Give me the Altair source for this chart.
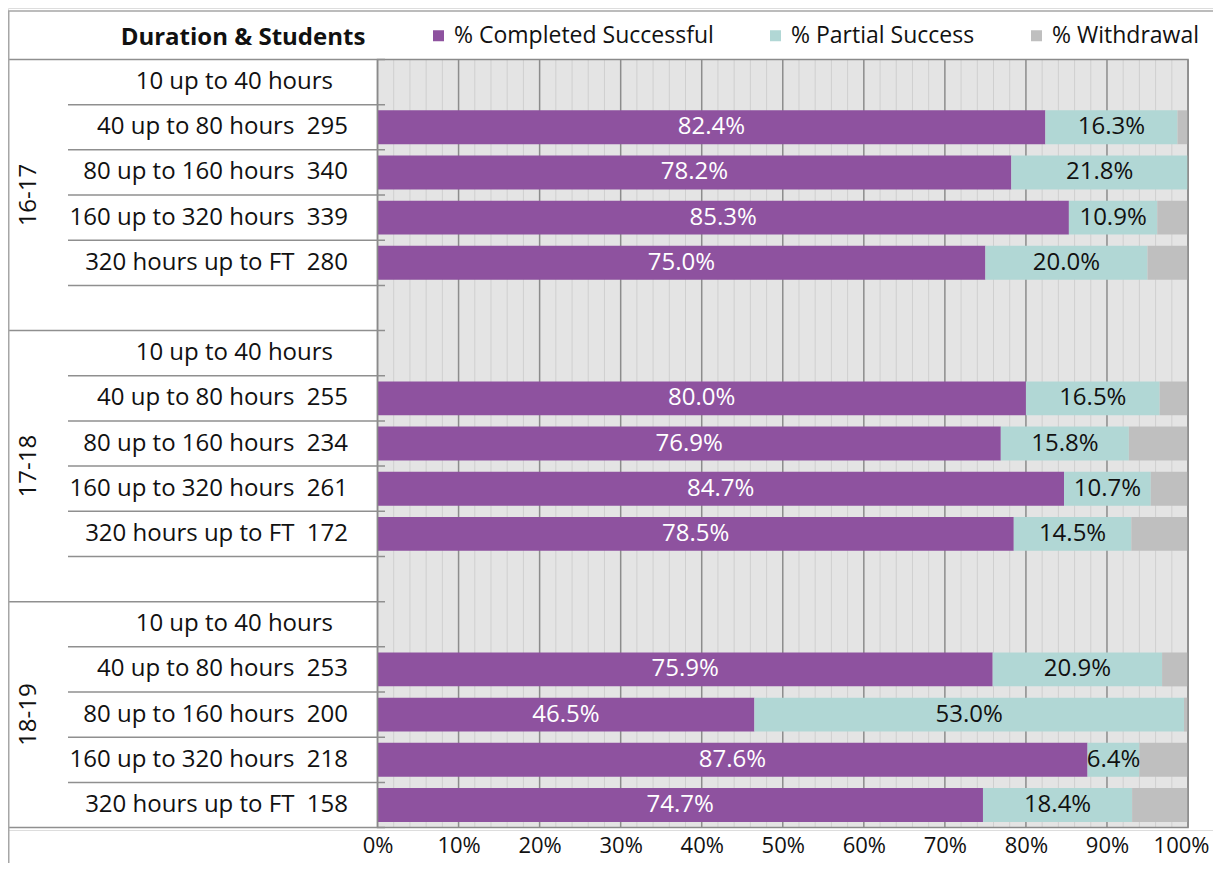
import altair as alt
import pandas as pd

# ---------------- data ----------------
GROUPS = ["16-17", "17-18", "18-19"]
DURATIONS = ["10 up to 40 hours", "40 up to 80 hours", "80 up to 160 hours",
             "160 up to 320 hours", "320 hours up to FT"]
STUDENTS = {
    "16-17": [None, 295, 340, 339, 280],
    "17-18": [None, 255, 234, 261, 172],
    "18-19": [None, 253, 200, 218, 158],
}
COMPLETED = {
    "16-17": [None, 82.4, 78.2, 85.3, 75.0],
    "17-18": [None, 80.0, 76.9, 84.7, 78.5],
    "18-19": [None, 75.9, 46.5, 87.6, 74.7],
}
PARTIAL = {
    "16-17": [None, 16.3, 21.8, 10.9, 20.0],
    "17-18": [None, 16.5, 15.8, 10.7, 14.5],
    "18-19": [None, 20.9, 53.0, 6.4, 18.4],
}
WITHDRAWAL = {
    "16-17": [None, 1.3, 0.0, 3.8, 5.0],
    "17-18": [None, 3.5, 7.3, 4.6, 7.0],
    "18-19": [None, 3.2, 0.5, 6.0, 6.9],
}
SERIES = ["% Completed Successful", "% Partial Success", "% Withdrawal"]
COLORS = ["#8E529F", "#B1D7D5", "#BFBFBF"]
TITLE = "Duration & Students"
X_TICKS = list(range(0, 101, 10))

# ---------------- tables ----------------
NBSP = "\u00a0"

bar_rows, label_rows, group_rows = [], [], []
inner_bounds, group_bounds = [], []
row = 0
for g, grp in enumerate(GROUPS):
    start = row
    for d, dur in enumerate(DURATIONS):
        n = STUDENTS[grp][d]
        lab = f"{dur}{NBSP}{NBSP}{n}" if n is not None else dur
        label_rows.append({"row": row + 0.5, "label": lab, "has_n": n is not None})
        vals = [COMPLETED[grp][d], PARTIAL[grp][d], WITHDRAWAL[grp][d]]
        if vals[0] is not None:
            for k, (s, v) in enumerate(zip(SERIES, vals)):
                bar_rows.append({"row": row, "series": s, "order": k, "value": v})
        row += 1
        inner_bounds.append(row)
    if g < len(GROUPS) - 1:
        row += 1  # spacer row
    group_bounds.append(start)
    group_rows.append({"y": (start + row) / 2, "g": grp})
group_bounds.append(row)
inner_bounds = [b for b in inner_bounds if b not in group_bounds]

bars = pd.DataFrame(bar_rows)
labels = pd.DataFrame(label_rows)
groups = pd.DataFrame(group_rows)
grid = pd.DataFrame({"x": list(range(0, 101, 2))})
grid["major"] = grid["x"] % 10 == 0

# ---------------- scales ----------------
W, H = 1205, 822
FONT = "Open Sans"
FS = 24
xs = alt.Scale(domain=[-45.59, 103.08], nice=False, zero=False)
ys = alt.Scale(domain=[-1.14, 17.054], nice=False, zero=False, reverse=True)
XAX = alt.Axis(values=X_TICKS, labelExpr="datum.value + '%'", domain=False, ticks=False,
               grid=False, labelFontSize=22, labelFont=FONT, labelPadding=5, title=None,
               labelColor="#111", labelFlush=False, labelOverlap=False,
               labelOffset={"condition": {"test": "datum.value == 100", "value": -7}, "value": 0})

plot_box = pd.DataFrame({"x0": [0], "x1": [100], "y0": [0], "y1": [row]})

bg = alt.Chart(plot_box).mark_rect(color="#E4E4E4").encode(
    x=alt.X("x0:Q", scale=xs, axis=XAX), x2="x1:Q",
    y=alt.Y("y0:Q", scale=ys, axis=None), y2="y1:Q",
)

grid_base = alt.Chart(grid).transform_calculate(y0="0", y1=str(row)).encode(
    x=alt.X("x:Q", scale=xs, axis=XAX),
    y=alt.Y("y0:Q", scale=ys, axis=None), y2="y1:Q",
)
minor = grid_base.transform_filter("!datum.major").mark_rule(color="#CFCFCF", strokeWidth=1)
major = grid_base.transform_filter("datum.major").mark_rule(color="#8C8C8C", strokeWidth=1.5)

stacked = alt.Chart(bars).transform_stack(
    stack="value", groupby=["row"], as_=["x0", "x1"], sort=[alt.SortField("order")]
).transform_calculate(
    ylo="datum.row + 0.5 - 0.375", yhi="datum.row + 0.5 + 0.375",
    mid="(datum.x0 + datum.x1) / 2", ymid="datum.row + 0.5",
    txt="format(datum.value, '.1f') + '%'",
)

rects = stacked.mark_rect().encode(
    x=alt.X("x0:Q", scale=xs, axis=XAX),
    x2="x1:Q",
    y=alt.Y("ylo:Q", scale=ys, axis=None), y2="yhi:Q",
    color=alt.Color("series:N", sort=SERIES,
                    scale=alt.Scale(domain=SERIES, range=COLORS),
                    legend=alt.Legend(
                        orient="none", legendX=419, legendY=16, direction="horizontal",
                        title=None, symbolType="square", symbolSize=121,
                        symbolStrokeWidth=0, labelFontSize=23, labelFont=FONT,
                        labelColor="#111", columnPadding=50, labelOffset=4,
                        labelLimit=0)),
)

txt_white = stacked.transform_filter(f"datum.series == '{SERIES[0]}'").mark_text(
    font=FONT, fontSize=FS, color="white", baseline="middle", align="center"
).encode(x=alt.X("mid:Q", scale=xs, axis=XAX), y=alt.Y("ymid:Q", scale=ys, axis=None), text="txt:N")
txt_black = stacked.transform_filter(f"datum.series == '{SERIES[1]}'").mark_text(
    font=FONT, fontSize=FS, color="#111", baseline="middle", align="center"
).encode(x=alt.X("mid:Q", scale=xs, axis=XAX), y=alt.Y("ymid:Q", scale=ys, axis=None), text="txt:N")

border = alt.Chart(plot_box).mark_rect(fill=None, stroke="#8A8A8A", strokeWidth=1.5).encode(
    x=alt.X("x0:Q", scale=xs, axis=XAX), x2="x1:Q",
    y=alt.Y("y0:Q", scale=ys, axis=None), y2="y1:Q",
)

inner_lines = alt.Chart(pd.DataFrame({"b": inner_bounds})).mark_rule(
    color="#8F8F8F", strokeWidth=1.5
).encode(y=alt.Y("b:Q", scale=ys, axis=None), x=alt.value(60), x2=alt.value(377))
group_lines = alt.Chart(pd.DataFrame({"b": group_bounds})).mark_rule(
    color="#8F8F8F", strokeWidth=1.5
).encode(y=alt.Y("b:Q", scale=ys, axis=None), x=alt.value(0), x2=alt.value(377))

cat_n = alt.Chart(labels).transform_filter("datum.has_n").mark_text(
    font=FONT, fontSize=FS, color="#111", align="right", baseline="middle"
).encode(y=alt.Y("row:Q", scale=ys, axis=None), x=alt.value(340), text="label:N")
cat_plain = alt.Chart(labels).transform_filter("!datum.has_n").mark_text(
    font=FONT, fontSize=FS, color="#111", align="right", baseline="middle"
).encode(y=alt.Y("row:Q", scale=ys, axis=None), x=alt.value(325), text="label:N")

grp_text = alt.Chart(groups).mark_text(
    font=FONT, fontSize=FS, color="#111", align="center", baseline="middle", angle=270
).encode(y=alt.Y("y:Q", scale=ys, axis=None), x=alt.value(21), text="g:N")

title = alt.Chart(pd.DataFrame({"t": [TITLE]})).mark_text(
    font=FONT, fontSize=24, fontWeight="bold", color="#111", align="center", baseline="middle"
).encode(x=alt.value(235), y=alt.value(30), text="t:N")

frame_top = alt.Chart(pd.DataFrame({"k": [0]})).mark_rule(color="#A6A6A6", strokeWidth=1.5).encode(
    x=alt.value(0), x2=alt.value(W), y=alt.value(3))
frame_left = alt.Chart(pd.DataFrame({"k": [0]})).mark_rule(color="#A6A6A6", strokeWidth=1.5).encode(
    x=alt.value(0.75), y=alt.value(3), y2=alt.value(H + 40))

chart = alt.layer(
    bg, minor, major, rects, txt_white, txt_black, border,
    inner_lines, group_lines, cat_n, cat_plain, grp_text, title, frame_top, frame_left,
).properties(
    width=W, height=H,
    autosize=alt.AutoSizeParams(type="none"),
    padding={"left": 0, "top": 0, "right": 0, "bottom": 33},
).configure_view(stroke=None).configure(font=FONT)

chart.save("out.html", embed_options={"renderer": "svg", "actions": False})
